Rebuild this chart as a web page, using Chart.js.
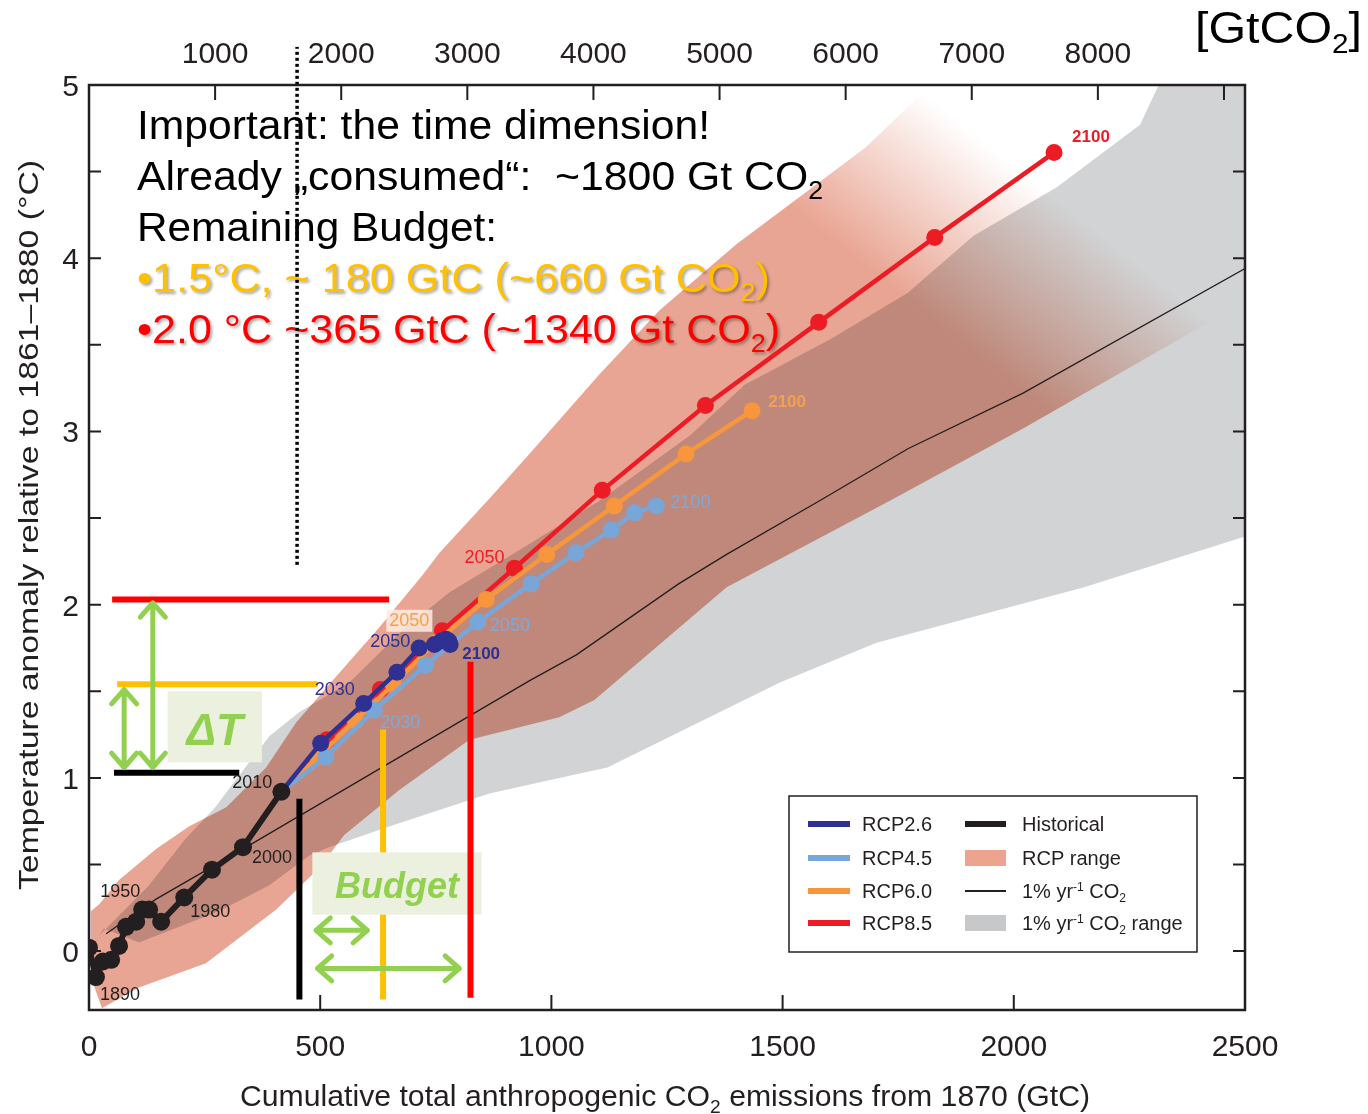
<!DOCTYPE html>
<html lang="en">
<head>
<meta charset="utf-8">
<title>Cumulative CO2 emissions and warming</title>
<script src="https://cdn.jsdelivr.net/npm/chart.js@4.4.1/dist/chart.umd.min.js"></script>
<style>
  html, body { margin: 0; padding: 0; background: #ffffff; }
  #chartBox { position: relative; width: 1368px; height: 1114px; }
</style>
</head>
<body>
<div id="chartBox"><canvas id="budgetChart"></canvas></div>
<script>
const GTC_TO_GTCO2 = 44 / 12;
const FONT = '"Liberation Sans", Arial, Helvetica, sans-serif';
const INK = '#231f20';
const GREEN = '#92d050';

// x = cumulative emissions since 1870 (GtC), y = temperature anomaly (°C)
const historicalGtC = [0, 15, 30, 48, 65, 80, 102, 115, 130, 156, 206, 266, 333, 416];
const historicalTemp = [0.02, -0.15, -0.06, -0.05, 0.03, 0.14, 0.17, 0.24, 0.24, 0.17, 0.31, 0.47, 0.60, 0.92];

const rcpYears = [2010, 2020, 2030, 2040, 2050, 2060, 2070, 2080, 2090, 2100];
const rcp26GtC = [416, 501, 594, 666, 714, 747, 762, 772, 778, 781];
const rcp26Temp = [0.92, 1.20, 1.43, 1.61, 1.75, 1.77, 1.79, 1.80, 1.79, 1.77];
const rcp45GtC = [416, 512, 617, 728, 841, 956, 1053, 1129, 1180, 1227];
const rcp45Temp = [0.92, 1.12, 1.39, 1.65, 1.90, 2.12, 2.30, 2.43, 2.53, 2.57];
const rcp60GtC = [416, 494, 576, 658, 749, 859, 990, 1136, 1291, 1434];
const rcp60Temp = [0.92, 1.12, 1.33, 1.54, 1.78, 2.03, 2.29, 2.57, 2.87, 3.12];
const rcp85GtC = [416, 515, 630, 764, 920, 1110, 1333, 1578, 1829, 2087];
const rcp85Temp = [0.92, 1.22, 1.51, 1.85, 2.21, 2.66, 3.15, 3.63, 4.12, 4.61];

const onePctGtC = [37, 145, 340, 952, 1054, 1275, 1379, 1580, 1771, 2019, 2500];
const onePctTemp = [0.10, 0.30, 0.60, 1.56, 1.71, 2.12, 2.29, 2.60, 2.90, 3.22, 3.94];

const rcpUpperGtC = [4, 22, 65, 145, 216, 297, 383, 448, 526, 628, 721, 758, 872, 959, 1104, 1234, 1400, 1580, 1680, 1805, 1916];
const rcpUpperTemp = [0.23, 0.27, 0.41, 0.59, 0.72, 0.83, 1.06, 1.32, 1.56, 1.87, 2.17, 2.30, 2.63, 2.89, 3.33, 3.70, 4.08, 4.44, 4.64, 4.96, 5.26];
const rcpLowerGtC = [4, 28, 108, 253, 405, 498, 552, 671, 823, 1017, 1093, 1379, 1732, 2022, 2435, 2511];
const rcpLowerTemp = [-0.15, -0.33, -0.21, -0.07, 0.24, 0.48, 0.67, 0.93, 1.22, 1.35, 1.45, 2.10, 2.60, 3.02, 3.65, 3.78];
const rcpFadeStart = [1537, 4.26];
const rcpFadeEnd = [1767, 5.03];

const greyUpperGtC = [22, 130, 206, 273, 318, 390, 455, 563, 677, 779, 946, 1104, 1301, 1418, 1608, 1771, 1913, 2093, 2273, 2359, 2520];
const greyUpperTemp = [0.09, 0.38, 0.64, 0.83, 0.99, 1.24, 1.38, 1.55, 1.85, 2.07, 2.34, 2.60, 2.98, 3.27, 3.54, 3.80, 4.13, 4.41, 4.77, 5.26, 5.26];
const greyLowerGtC = [32, 108, 281, 390, 476, 519, 649, 866, 1017, 1121, 1494, 1703, 2152, 2520];
const greyLowerTemp = [0.13, 0.05, 0.23, 0.38, 0.55, 0.60, 0.72, 0.91, 1.00, 1.06, 1.55, 1.78, 2.10, 2.41];

// annotation marks
const levelTemp = [2.03, 1.54, 1.03];
const levelFrom = [50, 61, 54];
const levelTo = [649, 494, 325];
const levelColors = ['#ff0000', '#ffc000', '#000000'];
const budgetGtC = [455, 636, 825];
const budgetTop = [0.88, 1.28, 1.67];
const budgetBottom = [-0.28, -0.28, -0.27];
const budgetColors = ['#000000', '#ffc000', '#ff0000'];
const consumedGtC = 450;
const consumedTemp = [2.23, 5.22];

const boxTexts = ['\u0394T', 'Budget'];
const boxGtCFrom = [170, 483];
const boxGtCTo = [374, 849];
const boxTempLow = [1.09, 0.21];
const boxTempHigh = [1.50, 0.57];

const vArrowGtC = [76, 138];
const vArrowTop = [1.51, 2.01];
const vArrowBottom = [1.06, 1.06];
const hArrowTemp = [0.12, -0.10];
const hArrowFrom = [491, 494];
const hArrowTo = [602, 801];

const yTickMarks = [0, 0.5, 1, 1.5, 2, 2.5, 3, 3.5, 4, 4.5, 5];
const yTickLabels = [0, 1, 2, 3, 4, 5];
const xTickMarks = [500, 1000, 1500, 2000];
const xTickLabels = [0, 500, 1000, 1500, 2000, 2500];
const topTickMarks = [1000, 2000, 3000, 4000, 5000, 6000, 7000, 8000, 9000];
const topTickLabels = [1000, 2000, 3000, 4000, 5000, 6000, 7000, 8000];

// [series, point index, text, dx, dy, bold, boxed]
const decadeLabels = [
    ['hist', 1, '1890', 24, 18, false, false],
    ['hist', 6, '1950', -16, -30, false, false],
    ['hist', 10, '1980', 26, 15, false, false],
    ['hist', 12, '2000', 29, 11, false, false],
    ['hist', 13, '2010', -29, -9, false, false],
    ['rcp26', 2, '2030', -29, -13, false, false],
    ['rcp26', 4, '2050', -29, -6, false, false],
    ['rcp26', 9, '2100', 31, 10, true, false],
    ['rcp45', 2, '2030', 26, 13, false, false],
    ['rcp45', 4, '2050', 32, 4, false, false],
    ['rcp45', 9, '2100', 34, -3, false, false],
    ['rcp60', 4, '2050', -26, -22, false, true],
    ['rcp60', 9, '2100', 35, -8, true, false],
    ['rcp85', 4, '2050', -30, -10, false, false],
    ['rcp85', 9, '2100', 37, -15, true, false]
];

const seriesColors = { hist: INK, rcp26: '#2e3192', rcp45: '#78a6d9', rcp60: '#f7963c', rcp85: '#ed1c24' };
const labelColors = { hist: INK, rcp26: '#2e3192', rcp45: '#7ea9da', rcp60: '#f7a04b', rcp85: '#ed1c24' };
const seriesData = {
    hist: [historicalGtC, historicalTemp],
    rcp26: [rcp26GtC, rcp26Temp],
    rcp45: [rcp45GtC, rcp45Temp],
    rcp60: [rcp60GtC, rcp60Temp],
    rcp85: [rcp85GtC, rcp85Temp]
};

const toPoints = function (xs, ys) {
    return xs.map(function (x, i) { return { x: x, y: ys[i] }; });
};

const polygon = function (upX, upY, loX, loY) {
    return toPoints(upX.concat(loX.slice().reverse()), upY.concat(loY.slice().reverse()));
};

const rcpDataset = function (key, label, order) {
    const color = seriesColors[key];
    return {
        label: label,
        role: 'rcp',
        data: toPoints(seriesData[key][0], seriesData[key][1]),
        borderColor: color,
        backgroundColor: color,
        borderWidth: 4.5,
        pointRadius: function (ctx) { return ctx.dataIndex === 0 ? 0 : 8.5; },
        pointBorderWidth: 0,
        pointBackgroundColor: color,
        order: order
    };
};

const segmentDataset = function (role, xs, ys, color, order) {
    return {
        role: role,
        data: toPoints(xs, ys),
        borderColor: color,
        borderWidth: 6,
        pointRadius: 0,
        fill: false,
        order: order
    };
};

const rcpRangeColor = function (context) {
    const chart = context.chart;
    const sx = chart.scales.x, sy = chart.scales.y;
    if (!chart.chartArea || !sx || !sy) return 'rgb(233,165,147)';
    const g = chart.ctx.createLinearGradient(
        sx.getPixelForValue(rcpFadeStart[0]), sy.getPixelForValue(rcpFadeStart[1]),
        sx.getPixelForValue(rcpFadeEnd[0]), sy.getPixelForValue(rcpFadeEnd[1]));
    g.addColorStop(0, 'rgba(233,165,147,1)');
    g.addColorStop(0.5, 'rgba(233,165,147,0.5)');
    g.addColorStop(1, 'rgba(233,165,147,0)');
    return g;
};

// text with sub/superscripts, optionally squeezed to a target width
const drawRich = function (ctx, parts, x, y, opt) {
    const size = opt.size;
    const pre = (opt.style || '') + ' ' + (opt.weight || '');
    const fontFor = function (kind) { return pre + ' ' + (kind ? Math.round(size * 0.62) : size) + 'px ' + FONT; };
    let total = 0;
    const widths = parts.map(function (p) {
        ctx.font = fontFor(p[1]);
        const w = ctx.measureText(p[0]).width;
        total += w;
        return w;
    });
    const sxf = opt.width ? opt.width / total : 1;
    ctx.save();
    ctx.translate(x, y);
    if (opt.rotate) ctx.rotate(opt.rotate);
    const start = opt.align === 'center' ? -total * sxf / 2 : (opt.align === 'right' ? -total * sxf : 0);
    ctx.translate(start, 0);
    ctx.scale(sxf, 1);
    ctx.fillStyle = opt.color;
    ctx.textAlign = 'left';
    ctx.textBaseline = 'alphabetic';
    if (opt.shadow) {
        ctx.shadowColor = 'rgba(0,0,0,0.35)';
        ctx.shadowOffsetX = 2;
        ctx.shadowOffsetY = 2;
        ctx.shadowBlur = 3;
    }
    let cx = 0;
    parts.forEach(function (p, i) {
        ctx.font = fontFor(p[1]);
        const dy = p[1] === 'sub' ? size * 0.22 : (p[1] === 'sup' ? -size * 0.36 : 0);
        ctx.fillText(p[0], cx, dy);
        cx += widths[i];
    });
    ctx.restore();
};

const drawNotes = function (chart) {
    const ctx = chart.ctx, a = chart.chartArea;
    const lines = [
        { parts: [['Important: the time dimension!', '']], color: '#000000', width: 573 },
        { parts: [['Already \u201Econsumed\u201C:  ~1800 Gt CO', ''], ['2', 'sub']], color: '#000000', width: 686 },
        { parts: [['Remaining Budget:', '']], color: '#000000', width: 360 },
        { parts: [['\u20221.5\u00B0C, ~ 180 GtC (~660 Gt CO', ''], ['2', 'sub'], [')', '']], color: '#ffc000', width: 633, shadow: true },
        { parts: [['\u20222.0 \u00B0C ~365 GtC (~1340 Gt CO', ''], ['2', 'sub'], [')', '']], color: '#ff0000', width: 643, shadow: true }
    ];
    lines.forEach(function (ln, i) {
        drawRich(ctx, ln.parts, a.left + 48, a.top + 54 + i * 51,
            { size: 40, color: ln.color, width: ln.width, shadow: ln.shadow });
    });
};

const drawBoxes = function (chart) {
    const ctx = chart.ctx, sx = chart.scales.x, sy = chart.scales.y;
    ctx.save();
    boxTexts.forEach(function (text, i) {
        const x0 = sx.getPixelForValue(boxGtCFrom[i]), x1 = sx.getPixelForValue(boxGtCTo[i]);
        const y0 = sy.getPixelForValue(boxTempHigh[i]), y1 = sy.getPixelForValue(boxTempLow[i]);
        ctx.fillStyle = '#ebf1de';
        ctx.fillRect(x0, y0, x1 - x0, y1 - y0);
        ctx.font = 'italic bold ' + (i === 0 ? 44 : 36) + 'px ' + FONT;
        ctx.fillStyle = GREEN;
        ctx.textAlign = 'center';
        ctx.textBaseline = 'alphabetic';
        ctx.fillText(text, (x0 + x1) / 2, y1 - 17);
    });
    ctx.restore();
};

const arrowHead = function (ctx, x, y, ang) {
    const len = 19, spread = 0.72;
    ctx.moveTo(x - len * Math.cos(ang - spread), y - len * Math.sin(ang - spread));
    ctx.lineTo(x, y);
    ctx.lineTo(x - len * Math.cos(ang + spread), y - len * Math.sin(ang + spread));
};

const drawArrows = function (chart) {
    const ctx = chart.ctx, sx = chart.scales.x, sy = chart.scales.y;
    ctx.save();
    ctx.strokeStyle = GREEN;
    ctx.lineWidth = 5;
    ctx.lineCap = 'round';
    ctx.lineJoin = 'round';
    ctx.beginPath();
    vArrowGtC.forEach(function (g, i) {
        const x = sx.getPixelForValue(g), yt = sy.getPixelForValue(vArrowTop[i]), yb = sy.getPixelForValue(vArrowBottom[i]);
        ctx.moveTo(x, yt); ctx.lineTo(x, yb);
        arrowHead(ctx, x, yt, -Math.PI / 2);
        arrowHead(ctx, x, yb, Math.PI / 2);
    });
    hArrowTemp.forEach(function (t, i) {
        const y = sy.getPixelForValue(t), xl = sx.getPixelForValue(hArrowFrom[i]), xr = sx.getPixelForValue(hArrowTo[i]);
        ctx.moveTo(xl, y); ctx.lineTo(xr, y);
        arrowHead(ctx, xl, y, Math.PI);
        arrowHead(ctx, xr, y, 0);
    });
    ctx.stroke();
    ctx.restore();
};

const drawDecadeLabels = function (chart) {
    const ctx = chart.ctx, sx = chart.scales.x, sy = chart.scales.y;
    ctx.save();
    ctx.textAlign = 'center';
    ctx.textBaseline = 'middle';
    decadeLabels.forEach(function (l) {
        const d = seriesData[l[0]];
        const x = sx.getPixelForValue(d[0][l[1]]) + l[3];
        const y = sy.getPixelForValue(d[1][l[1]]) + l[4];
        ctx.font = (l[5] ? 'bold 17px ' : '18px ') + FONT;
        if (l[6]) {
            const w = ctx.measureText(l[2]).width;
            ctx.fillStyle = 'rgba(253,236,225,0.85)';
            ctx.fillRect(x - w / 2 - 3, y - 11, w + 6, 22);
        }
        ctx.fillStyle = labelColors[l[0]];
        ctx.fillText(l[2], x, y);
    });
    ctx.restore();
};

const drawAxes = function (chart) {
    const ctx = chart.ctx, a = chart.chartArea, sx = chart.scales.x, sy = chart.scales.y;
    ctx.save();
    ctx.strokeStyle = INK;
    ctx.lineWidth = 2.5;
    ctx.strokeRect(a.left, a.top, a.right - a.left, a.bottom - a.top);
    ctx.lineWidth = 2;
    ctx.beginPath();
    yTickMarks.forEach(function (v) {
        const y = sy.getPixelForValue(v);
        ctx.moveTo(a.left, y); ctx.lineTo(a.left + 12, y);
        ctx.moveTo(a.right, y); ctx.lineTo(a.right - 12, y);
    });
    xTickMarks.forEach(function (v) {
        const x = sx.getPixelForValue(v);
        ctx.moveTo(x, a.bottom); ctx.lineTo(x, a.bottom - 15);
    });
    topTickMarks.forEach(function (v) {
        const x = sx.getPixelForValue(v / GTC_TO_GTCO2);
        ctx.moveTo(x, a.top); ctx.lineTo(x, a.top + 15);
    });
    ctx.stroke();

    ctx.fillStyle = INK;
    ctx.font = '30px ' + FONT;
    ctx.textAlign = 'right';
    ctx.textBaseline = 'alphabetic';
    yTickLabels.forEach(function (v) {
        ctx.fillText(String(v), a.left - 10, sy.getPixelForValue(v) + 11);
    });
    ctx.textAlign = 'center';
    xTickLabels.forEach(function (v) {
        ctx.fillText(String(v), sx.getPixelForValue(v), a.bottom + 46);
    });
    topTickLabels.forEach(function (v) {
        ctx.fillText(String(v), sx.getPixelForValue(v / GTC_TO_GTCO2), a.top - 22);
    });
    ctx.restore();

    drawRich(ctx, [['Cumulative total anthropogenic CO', ''], ['2', 'sub'], [' emissions from 1870 (GtC)', '']],
        (a.left + a.right) / 2 - 2, a.bottom + 96, { size: 30, color: INK, width: 850, align: 'center' });
    drawRich(ctx, [['Temperature anomaly relative to 1861\u20131880 (\u00B0C)', '']],
        38, 525, { size: 28, color: INK, width: 730, align: 'center', rotate: -Math.PI / 2 });
    drawRich(ctx, [['[GtCO', ''], ['2', 'sub'], [']', '']],
        1195, 43, { size: 44, color: '#000000', width: 167 });
};

const drawLegend = function (chart) {
    const ctx = chart.ctx, a = chart.chartArea;
    const w = 408, h = 156;
    const left = a.right - 48 - w, top = a.bottom - 58 - h;
    const rows = [28, 62, 95, 127];
    ctx.save();
    ctx.fillStyle = '#ffffff';
    ctx.fillRect(left, top, w, h);
    ctx.strokeStyle = INK;
    ctx.lineWidth = 1.5;
    ctx.strokeRect(left, top, w, h);
    ['rcp26', 'rcp45', 'rcp60', 'rcp85'].forEach(function (key, i) {
        ctx.fillStyle = seriesColors[key];
        ctx.fillRect(left + 19, top + rows[i] - 3, 42, 6);
    });
    ctx.fillStyle = INK;
    ctx.fillRect(left + 176, top + rows[0] - 3, 41, 6);
    ctx.fillStyle = '#eda48e';
    ctx.fillRect(left + 176, top + rows[1] - 8, 41, 16);
    ctx.fillStyle = INK;
    ctx.fillRect(left + 176, top + rows[2] - 1, 41, 2);
    ctx.fillStyle = '#c7c8ca';
    ctx.fillRect(left + 176, top + rows[3] - 8, 41, 16);
    ctx.restore();
    ['RCP2.6', 'RCP4.5', 'RCP6.0', 'RCP8.5'].forEach(function (t, i) {
        drawRich(ctx, [[t, '']], left + 73, top + rows[i] + 7, { size: 20, color: INK });
    });
    const right = [
        [['Historical', '']],
        [['RCP range', '']],
        [['1% yr', ''], ['-1', 'sup'], [' CO', ''], ['2', 'sub']],
        [['1% yr', ''], ['-1', 'sup'], [' CO', ''], ['2', 'sub'], [' range', '']]
    ];
    right.forEach(function (parts, i) {
        drawRich(ctx, parts, left + 233, top + rows[i] + 7, { size: 20, color: INK });
    });
};

const overlayPlugin = {
    id: 'overlay',
    afterDatasetDraw: function (chart, args) {
        const role = chart.data.datasets[args.index].role;
        const ctx = chart.ctx;
        if (role === 'greyRange') ctx.globalCompositeOperation = 'multiply';
        if (role === 'rcpRange') {
            ctx.globalCompositeOperation = 'source-over';
            drawNotes(chart);
        }
        if (role === 'yellowBar') {
            drawBoxes(chart);
            drawArrows(chart);
        }
    },
    afterDatasetsDraw: function (chart) {
        drawDecadeLabels(chart);
    },
    afterDraw: function (chart) {
        drawAxes(chart);
        drawLegend(chart);
    }
};

const datasets = [
    {
        role: 'greyRange',
        data: polygon(greyUpperGtC, greyUpperTemp, greyLowerGtC, greyLowerTemp),
        backgroundColor: '#d1d3d4', borderWidth: 0, pointRadius: 0, fill: 'shape', order: 31
    },
    {
        role: 'rcpRange',
        data: polygon(rcpUpperGtC, rcpUpperTemp, rcpLowerGtC, rcpLowerTemp),
        backgroundColor: rcpRangeColor, borderWidth: 0, pointRadius: 0, fill: 'shape', order: 30
    },
    {
        role: 'onePct',
        data: toPoints(onePctGtC, onePctTemp),
        borderColor: INK, borderWidth: 1.3, pointRadius: 0, fill: false, order: 20
    },
    {
        role: 'consumed',
        data: toPoints([consumedGtC, consumedGtC], consumedTemp),
        borderColor: '#000000', borderWidth: 3.5, borderDash: [3, 3], pointRadius: 0, fill: false, clip: false, order: 17
    },
    segmentDataset('levelBar', [levelFrom[2], levelTo[2]], [levelTemp[2], levelTemp[2]], levelColors[2], 16),
    segmentDataset('levelBar', [levelFrom[1], levelTo[1]], [levelTemp[1], levelTemp[1]], levelColors[1], 15),
    segmentDataset('levelBar', [levelFrom[0], levelTo[0]], [levelTemp[0], levelTemp[0]], levelColors[0], 14),
    segmentDataset('blackBar', [budgetGtC[0], budgetGtC[0]], [budgetBottom[0], budgetTop[0]], budgetColors[0], 13),
    segmentDataset('yellowBar', [budgetGtC[1], budgetGtC[1]], [budgetBottom[1], budgetTop[1]], budgetColors[1], 12),
    segmentDataset('redBar', [budgetGtC[2], budgetGtC[2]], [budgetBottom[2], budgetTop[2]], budgetColors[2], 11),
    rcpDataset('rcp85', 'RCP8.5', 5),
    rcpDataset('rcp60', 'RCP6.0', 4),
    rcpDataset('rcp45', 'RCP4.5', 3),
    rcpDataset('rcp26', 'RCP2.6', 2),
    {
        label: 'Historical',
        role: 'hist',
        data: toPoints(historicalGtC, historicalTemp),
        borderColor: INK, backgroundColor: INK, pointBackgroundColor: INK,
        borderWidth: 6, pointRadius: 9, pointBorderWidth: 0, fill: false, order: 1
    }
];

const budgetChart = new Chart(document.getElementById('budgetChart'), {
    type: 'line',
    data: { datasets: datasets },
    options: {
        responsive: true,
        maintainAspectRatio: false,
        animation: false,
        events: [],
        layout: { padding: { left: 89, right: 123, top: 85, bottom: 104 } },
        scales: {
            x: { type: 'linear', min: 0, max: 2500, display: false },
            y: { type: 'linear', min: -0.34, max: 5, display: false }
        },
        plugins: {
            legend: { display: false },
            tooltip: { enabled: false }
        }
    },
    plugins: [overlayPlugin]
});
</script>
</body>
</html>
